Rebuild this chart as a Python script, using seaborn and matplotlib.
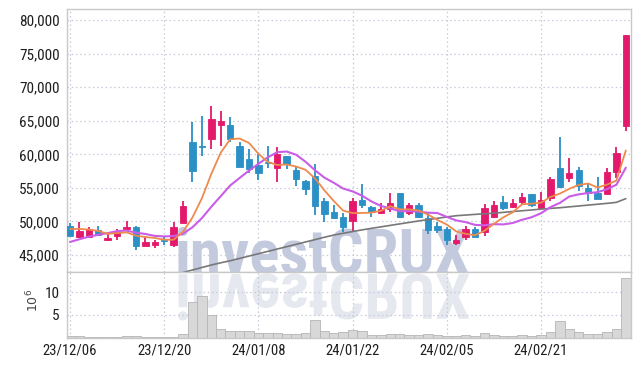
import numpy as np
import pandas as pd
import matplotlib
matplotlib.use("Agg")
import matplotlib.pyplot as plt
import seaborn as sns
from matplotlib import font_manager
from matplotlib.textpath import TextPath
from matplotlib.font_manager import FontProperties
from matplotlib.patches import PathPatch
from matplotlib.transforms import Affine2D

# ---------------- data ----------------
opens = [49330, 47730, 47730, 48730, 47290, 47880, 48810, 49180, 46410, 46450,
         47310, 46510, 49840, 61830, 61250, 62240, 64410, 64370, 61240, 59300,
         58410, 58850, 57920, 59750, 57670, 55980, 56820, 53050, 51410, 50700,
         50120, 53200, 52110, 51310, 51860, 54180, 51220, 52450, 50470, 49330,
         48830, 46750, 47680, 48880, 48420, 50690, 52850, 52200, 52850, 54080,
         51960, 53540, 58010, 56520, 57670, 54940, 54280, 54080, 57410, 64260]
highs = [49730, 49870, 49230, 49330, 48080, 48880, 50030, 49330, 47840, 47220,
         47730, 49870, 53100, 64770, 65710, 67240, 66450, 65510, 61880, 60750,
         60000, 61190, 61050, 59750, 58310, 56220, 58510, 53450, 52450, 51220,
         53450, 55530, 52300, 52700, 54280, 54180, 52800, 52800, 51460, 49970,
         49230, 47930, 49330, 49230, 52600, 53050, 53800, 53350, 54280, 54080,
         54330, 56670, 62530, 59410, 58160, 55680, 56670, 57920, 61050, 77770]
lows = [47880, 47500, 47580, 47880, 47090, 47290, 48630, 45740, 46300, 46100,
        46450, 46250, 49730, 55830, 59710, 60790, 61290, 61880, 58160, 57270,
        56130, 58010, 55830, 57820, 55280, 53940, 50960, 49970, 50370, 48470,
        48470, 51960, 50710, 51110, 51460, 50560, 50960, 50470, 48130, 48330,
        46430, 46430, 47240, 47680, 47880, 50470, 51710, 51960, 52450, 52110,
        51860, 53050, 54940, 55920, 54530, 53050, 53350, 54080, 56430, 63470]
closes = [47880, 48580, 48820, 47980, 47580, 48380, 49160, 46350, 46950, 46900,
          47110, 49110, 52320, 57560, 61150, 65260, 64960, 62240, 58160, 57860,
          57270, 58780, 60000, 58510, 56370, 54880, 52350, 51160, 50470, 49220,
          53050, 52450, 51410, 51800, 52700, 50710, 52400, 50620, 48730, 48730,
          47240, 47290, 48830, 47680, 52050, 52450, 52050, 52700, 53600, 52450,
          53200, 56330, 55180, 57170, 55330, 54280, 53350, 57320, 60150, 77770]
# closes of the sessions just before the window (estimated), used for the moving averages
prior_closes = [44500, 45000, 45200, 45100, 45300, 48500, 49300, 49000, 49720]
# long moving average (grey); NaN where it is off the chart
ma_long = [np.nan] * 10 + [
    41700, 42050, 42400, 42780, 43150, 43520, 43850, 44150, 44500, 44850,
    45200, 45550, 45900, 46250, 46600, 46950, 47300, 47650, 47980, 48250,
    48500, 48750, 48980, 49200, 49420, 49640, 49860, 50080, 50280, 50480,
    50680, 50860, 50960, 51060, 51150, 51240, 51360, 51480, 51600, 51720,
    51840, 51950, 52050, 52180, 52310, 52440, 52570, 52700, 52850, 53400]
# volume in millions
volume = [0.4, 0.3, 0.05, 0.05, 0.05, 0.05, 0.3, 0.3, 0.05, 0.2,
          0.05, 0.2, 0.8, 7.7, 9.2, 5.0, 1.9, 1.5, 1.5, 1.5,
          1.05, 1.05, 1.05, 0.8, 0.8, 1.05, 3.9, 1.5, 1.05, 1.25,
          1.7, 1.5, 0.5, 0.5, 0.8, 0.8, 0.5, 0.5, 0.8, 0.5,
          0.3, 0.25, 0.5, 0.3, 1.0, 0.5, 0.3, 0.3, 0.5, 0.3,
          0.5, 1.3, 3.7, 1.9, 1.3, 0.8, 0.8, 1.3, 1.9, 13.1]
tick_pos = [0, 10, 20, 30, 40, 50]
tick_labels = ["23/12/06", "23/12/20", "24/01/08", "24/01/22", "24/02/05", "24/02/21"]
price_ticks = [45000, 50000, 55000, 60000, 65000, 70000, 75000, 80000]
vol_ticks = [5, 10]

# ---------------- style ----------------
sns.set_style("white")
names = {f.name for f in font_manager.fontManager.ttflist}
narrow = "DejaVu Sans"
for cand in ["Liberation Sans Narrow", "Roboto Condensed", "Open Sans Condensed", "Liberation Sans"]:
    if cand in names:
        narrow = cand
        break
plt.rcParams["font.family"] = [narrow, "DejaVu Sans"]
plt.rcParams["mathtext.fontset"] = "dejavusans"

UP = "#e3196b"
DOWN = "#2b90c6"
GRID = "#c6cadb"
SPINE = "#c8c8c8"

n = len(closes)
idx = np.arange(n)
df = pd.DataFrame({"i": idx, "open": opens, "high": highs, "low": lows,
                   "close": closes, "vol": volume, "ma_long": ma_long})
full = pd.Series(prior_closes + closes)
df["ma5"] = full.rolling(5).mean().iloc[len(prior_closes):].to_numpy()
df["ma10"] = full.rolling(10).mean().iloc[len(prior_closes):].to_numpy()

W, H = 639, 366
fig = plt.figure(figsize=(W / 100, H / 100), dpi=100)
L, R = 66.5, 631
ax = fig.add_axes([L / W, 1 - 272 / H, (R - L) / W, (272 - 9) / H])
axv = fig.add_axes([L / W, 1 - 337.5 / H, (R - L) / W, (337.5 - 272) / H], sharex=ax)

# watermark
wm_size_px = 63
wm_color = "#c3cade"
ax.text(175 / W, 1 - 273 / H, "investCRUX", transform=fig.transFigure,
        fontsize=wm_size_px * 72 / 100, fontweight="bold", color=wm_color,
        ha="left", va="baseline", zorder=0.5, clip_on=False)
fp = FontProperties(family=[narrow, "DejaVu Sans"], weight="bold")
tp = TextPath((0, 0), "investCRUX", size=wm_size_px, prop=fp)
refl = PathPatch(tp, facecolor="#e6e8ef", edgecolor="none", zorder=0.5,
                 transform=Affine2D().scale(1, -1).translate(175, H - 274))
axv.add_artist(refl)

# candles
up = df["close"] >= df["open"]
cols = np.where(up, UP, DOWN)
ax.vlines(df["i"], df["low"], df["high"], colors=cols, linewidth=1.3, zorder=2)
body_bottom = np.minimum(df["open"], df["close"])
body_h = np.maximum(np.abs(df["close"] - df["open"]), 120)
ax.bar(df["i"], body_h, bottom=body_bottom, width=0.68, color=cols,
       edgecolor=cols, linewidth=0.6, zorder=3)

# moving averages
sns.lineplot(data=df, x="i", y="ma_long", ax=ax, color="#787878", linewidth=1.2, zorder=4)
sns.lineplot(data=df, x="i", y="ma10", ax=ax, color="#c95de8", linewidth=1.5, zorder=4)
sns.lineplot(data=df, x="i", y="ma5", ax=ax, color="#ee8a4e", linewidth=1.3, zorder=5)

# volume
axv.bar(df["i"], df["vol"], width=1.0, color="#d8d8d8", edgecolor="#b5b5b5",
        linewidth=0.6, zorder=2)

# axes styling
ax.set_xlim(-0.37, 59.55)
ax.set_ylim(42480, 81640)
axv.set_ylim(0, 14.4)
for a in (ax, axv):
    a.set_xlabel("")
    a.set_ylabel("")
    for s in a.spines.values():
        s.set_color(SPINE)
        s.set_linewidth(1.0)
    a.tick_params(length=0, colors="#1e1e1e", labelsize=11)
    a.grid(True, color=GRID, linestyle=(0, (1.2, 2.2)), linewidth=0.9)
    a.set_axisbelow(True)

ax.set_yticks(price_ticks)
ax.set_yticklabels([f"{v:,}" for v in price_ticks])
ax.tick_params(axis="y", pad=5)
ax.tick_params(axis="x", labelbottom=False)
axv.set_yticks(vol_ticks)
axv.set_yticklabels([str(v) for v in vol_ticks])
axv.set_xticks(tick_pos)
axv.set_xticklabels(tick_labels)
axv.tick_params(axis="y", pad=5)
axv.tick_params(axis="x", pad=4, labelsize=10.5)

fig.text(33 / W, 1 - 300 / H, r"$10^{6}$", rotation=90, fontsize=9,
         color="#444444", ha="center", va="center")

fig.savefig("out.png", dpi=100, facecolor="white")
